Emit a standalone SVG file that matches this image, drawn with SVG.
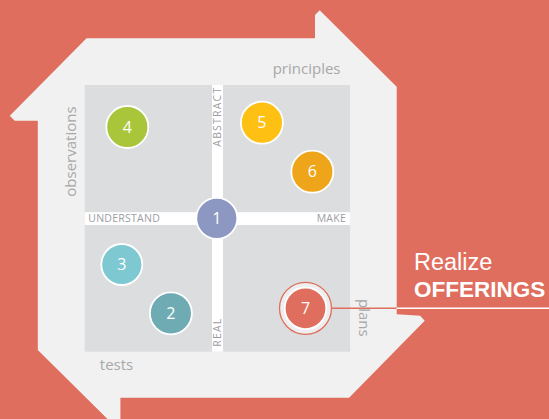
<svg xmlns="http://www.w3.org/2000/svg" width="549" height="419" viewBox="0 0 549 419">
<style>
.lbl{font-family:"Open Sans","Liberation Sans",sans-serif;fill:#a7a8aa;font-size:15px}
.axis{font-family:"Open Sans","Liberation Sans",sans-serif;fill:#9c9d9f;font-size:10.5px;letter-spacing:0.25px}
.num{font-family:"Open Sans","Liberation Sans",sans-serif;fill:#ffffff;font-size:16px;text-anchor:middle}
.dot{stroke:#ffffff;stroke-width:1.8}
.big{font-family:"Liberation Sans",Arial,sans-serif;fill:#ffffff;font-size:23.5px}
</style>
<rect x="0" y="0" width="549" height="419" fill="#df6e5e"/>
<g id="frame">
<polygon points="86.5,38.3 315,38.3 315,15 319.7,10.3 396.7,86.7 396.7,314.3 420.2,315.7 424.7,320.7 349.1,397.7 120.4,397.7 120.4,419 107.5,419 37.8,350 37.8,120.7 14.7,120.7 9.8,115.7" fill="#f1f1f1"/>
<rect x="84.7" y="85" width="265.4" height="266.7" fill="#dcdddf"/>
<rect x="212" y="85" width="11" height="266.7" fill="#ffffff"/>
<rect x="84.7" y="212.2" width="265.4" height="12.8" fill="#ffffff"/>
</g>
<g id="labels">
<text class="lbl" x="340.5" y="74" text-anchor="end">principles</text>
<text class="lbl" transform="translate(75.5,196.7) rotate(-90)">observations</text>
<text class="lbl" x="99.8" y="370">tests</text>
<text class="lbl" transform="translate(358.6,299) rotate(90)">plans</text>
<text class="axis" x="88.3" y="222.3">UNDERSTAND</text>
<text class="axis" x="346" y="222.3" text-anchor="end">MAKE</text>
<text class="axis" transform="translate(221.3,146.7) rotate(-90)" style="letter-spacing:1.2px">ABSTRACT</text>
<text class="axis" transform="translate(221.3,346.7) rotate(-90)" style="letter-spacing:1.2px">REAL</text>
</g>
<g id="connectors">
<line x1="332" y1="308.3" x2="396.7" y2="308.3" stroke="#df6e5e" stroke-width="1.5"/>
<line x1="396.7" y1="308.3" x2="549" y2="308.3" stroke="#ffffff" stroke-width="1.5"/>
</g>
<g id="node1"><circle class="dot" cx="216.8" cy="218.3" r="20.5" fill="#8c98c2"/><text class="num" x="216.8" y="224">1</text></g>
<g id="node2"><circle class="dot" cx="170.9" cy="313.3" r="21" fill="#6fabb3"/><text class="num" x="170.9" y="319">2</text></g>
<g id="node3"><circle class="dot" cx="121.8" cy="264.5" r="20.5" fill="#7ec8d2"/><text class="num" x="121.8" y="270.2">3</text></g>
<g id="node4"><circle class="dot" cx="127.3" cy="127" r="21" fill="#a9c53a"/><text class="num" x="127.3" y="132.7">4</text></g>
<g id="node5"><circle class="dot" cx="261.9" cy="122.7" r="21" fill="#fdc013"/><text class="num" x="261.9" y="128.4">5</text></g>
<g id="node6"><circle class="dot" cx="312.3" cy="171.7" r="21" fill="#efa51a"/><text class="num" x="312.3" y="177.4">6</text></g>
<g id="node7"><circle cx="305.5" cy="308.3" r="26" fill="#eeeeee" stroke="#df6e5e" stroke-width="1.3"/><circle class="dot" cx="305.5" cy="308.3" r="20.8" fill="#df6e5e"/><text class="num" x="305.5" y="314">7</text></g>
<g id="offerings">
<text class="big" x="414" y="270">Realize</text>
<text class="big" x="414" y="297.3" font-weight="bold" style="font-size:22.5px">OFFERINGS</text>
</g>
</svg>
